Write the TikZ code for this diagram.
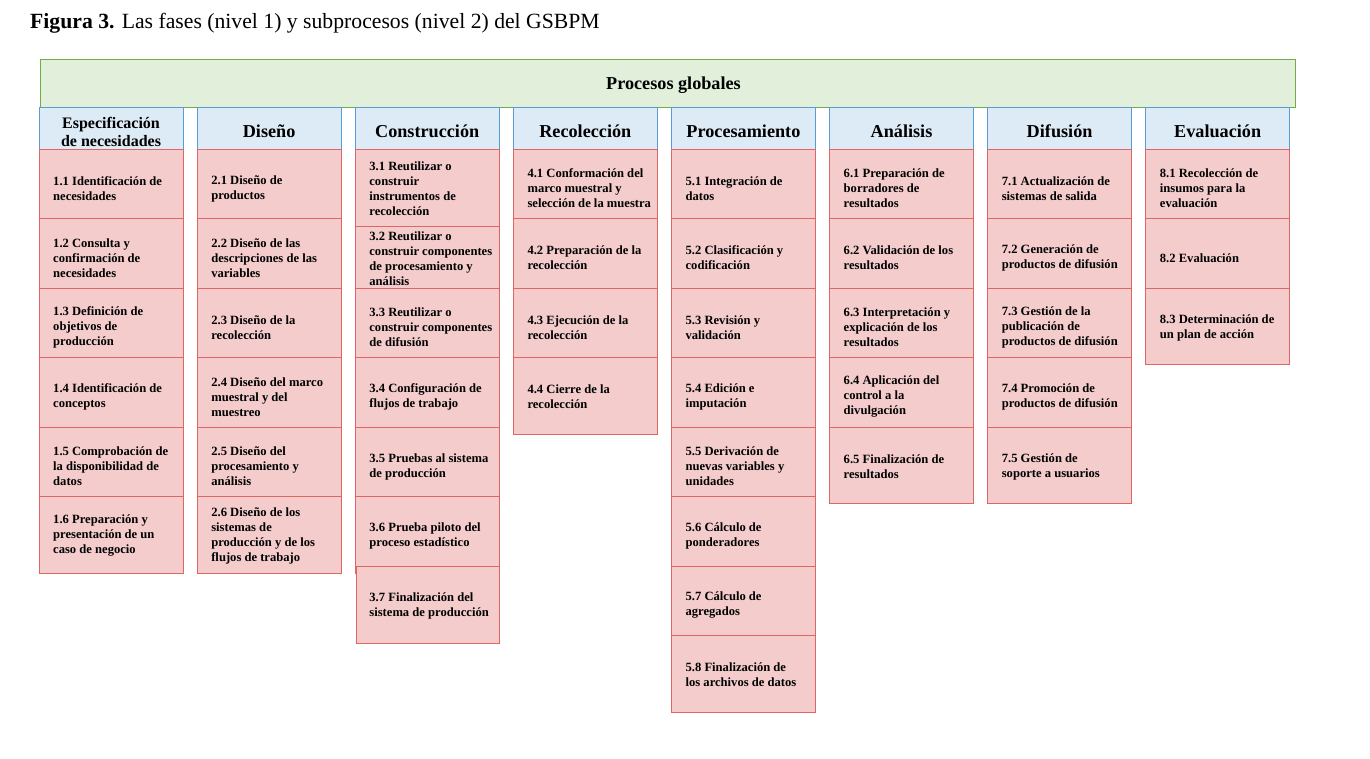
\documentclass[tikz,border=0pt]{standalone}
\usepackage{fontspec}
\setmainfont{Liberation Serif}
\usetikzlibrary{positioning}

\definecolor{globalfill}{HTML}{E2EFDA}
\definecolor{globalline}{HTML}{70AD47}
\definecolor{phasefill}{HTML}{DDEBF7}
\definecolor{phaseline}{HTML}{5B9BD5}
\definecolor{subfill}{HTML}{F4CCCC}
\definecolor{subline}{HTML}{E06666}

\newcommand{\titletextfont}{\fontsize{21.7}{25}\selectfont}
\newcommand{\phasetextfont}{\fontsize{18.2}{21}\selectfont\bfseries}
\newcommand{\firstphasefont}{\fontsize{16}{18}\selectfont\bfseries}
\newcommand{\subtextfont}{\fontsize{12.6}{15}\selectfont\bfseries}

\begin{document}
\begin{tikzpicture}[x=1pt, y=-1pt,
  global/.style={draw=globalline, fill=globalfill, line width=1pt, minimum width=1255pt, minimum height=48pt, inner sep=0pt, outer sep=0pt, anchor=north west},
  phase/.style={draw=phaseline, fill=phasefill, line width=1pt, minimum width=144pt, minimum height=41.5pt, inner sep=0pt, outer sep=0pt},
  sub/.style={draw=subline, fill=subfill, line width=1pt, minimum width=144pt, minimum height=69.5pt, inner sep=0pt, outer sep=0pt},
  last/.style={sub, minimum height=76.5pt},
  phasetext/.style={anchor=base, inner sep=0pt, font=\phasetextfont},
  subtext/.style={anchor=west, align=left, inner sep=0pt, font=\subtextfont},
  node distance=0pt and 14.1pt]
  \useasboundingbox (0,0) rectangle (1370,758);

  % Title
  \node[anchor=base west, inner sep=0pt, font=\titletextfont] (title) at (30,28.5) {\textbf{Figura 3.} Las fases (nivel 1) y subprocesos (nivel 2) del GSBPM};

  % Level 0: global processes
  \node[global] (global) at (40,59.5) {};
  \node[phasetext] (globalt) at (673.5,89) {Procesos globales};

  % Level 1: phases
  \node[phase, anchor=north west] (h1) at (39,107.5) {};
  \node[phase, right=of h1] (h2) {};
  \node[phase, right=of h2] (h3) {};
  \node[phase, right=of h3] (h4) {};
  \node[phase, right=of h4] (h5) {};
  \node[phase, right=of h5] (h6) {};
  \node[phase, right=of h6] (h7) {};
  \node[phase, right=of h7] (h8) {};
  \node[phasetext, anchor=center, align=center, font=\firstphasefont] (h1t) at ([yshift=-4.1pt]h1.center) {Especificación\\de necesidades};
  \node[phasetext] (h2t) at ([yshift=-9.25pt]h2.center) {Diseño};
  \node[phasetext] (h3t) at ([yshift=-9.25pt]h3.center) {Construcción};
  \node[phasetext] (h4t) at ([yshift=-9.25pt]h4.center) {Recolección};
  \node[phasetext] (h5t) at ([yshift=-9.25pt]h5.center) {Procesamiento};
  \node[phasetext] (h6t) at ([yshift=-9.25pt]h6.center) {Análisis};
  \node[phasetext] (h7t) at ([yshift=-9.25pt]h7.center) {Difusión};
  \node[phasetext] (h8t) at ([yshift=-9.25pt]h8.center) {Evaluación};

  % Level 2: Especificación de necesidades
  \node[sub, below=of h1] (s11) {};
  \node[sub, below=of s11] (s12) {};
  \node[sub, below=of s12] (s13) {};
  \node[sub, below=of s13] (s14) {};
  \node[sub, below=of s14] (s15) {};
  \node[last, below=of s15] (s16) {};
  \node[subtext] (t11) at ([xshift=14pt,yshift=-39.5pt]s11.north west) {1.1 Identificación de\\necesidades};
  \node[subtext] (t12) at ([xshift=14pt,yshift=-39.5pt]s12.north west) {1.2 Consulta y\\confirmación de\\necesidades};
  \node[subtext] (t13) at ([xshift=14pt,yshift=-39.5pt]s13.north west) {1.3 Definición de\\objetivos de\\producción};
  \node[subtext] (t14) at ([xshift=14pt,yshift=-39.5pt]s14.north west) {1.4 Identificación de\\conceptos};
  \node[subtext] (t15) at ([xshift=14pt,yshift=-39.5pt]s15.north west) {1.5 Comprobación de\\la disponibilidad de\\datos};
  \node[subtext] (t16) at ([xshift=14pt,yshift=-39.5pt]s16.north west) {1.6 Preparación y\\presentación de un\\caso de negocio};

  % Level 2: Diseño
  \node[sub, below=of h2] (s21) {};
  \node[sub, below=of s21] (s22) {};
  \node[sub, below=of s22] (s23) {};
  \node[sub, below=of s23] (s24) {};
  \node[sub, below=of s24] (s25) {};
  \node[last, below=of s25] (s26) {};
  \node[subtext] (t21) at ([xshift=14pt,yshift=-39.5pt]s21.north west) {2.1 Diseño de\\productos};
  \node[subtext] (t22) at ([xshift=14pt,yshift=-39.5pt]s22.north west) {2.2 Diseño de las\\descripciones de las\\variables};
  \node[subtext] (t23) at ([xshift=14pt,yshift=-39.5pt]s23.north west) {2.3 Diseño de la\\recolección};
  \node[subtext] (t24) at ([xshift=14pt,yshift=-39.5pt]s24.north west) {2.4 Diseño del marco\\muestral y del\\muestreo};
  \node[subtext] (t25) at ([xshift=14pt,yshift=-39.5pt]s25.north west) {2.5 Diseño del\\procesamiento y\\análisis};
  \node[subtext] (t26) at ([xshift=14pt,yshift=-39.5pt]s26.north west) {2.6 Diseño de los\\sistemas de\\producción y de los\\flujos de trabajo};

  % Level 2: Construcción
  \node[sub, below=of h3, minimum height=77pt] (s31) {};
  \node[sub, below=of s31, minimum height=62pt] (s32) {};
  \node[sub, below=of s32] (s33) {};
  \node[sub, below=of s33] (s34) {};
  \node[sub, below=of s34] (s35) {};
  \node[last, below=of s35] (s36) {};
  \node[last, anchor=north west, minimum width=143pt, minimum height=77pt] (s37) at ([xshift=1pt,yshift=7pt]s36.south west) {};
  \node[subtext] (t31) at ([xshift=14pt,yshift=-40pt]s31.north west) {3.1 Reutilizar o\\construir\\instrumentos de\\recolección};
  \node[subtext] (t32) at ([xshift=14pt,yshift=-33pt]s32.north west) {3.2 Reutilizar o\\construir componentes\\de procesamiento y\\análisis};
  \node[subtext] (t33) at ([xshift=14pt,yshift=-39.5pt]s33.north west) {3.3 Reutilizar o\\construir componentes\\de difusión};
  \node[subtext] (t34) at ([xshift=14pt,yshift=-39.5pt]s34.north west) {3.4 Configuración de\\flujos de trabajo};
  \node[subtext] (t35) at ([xshift=14pt,yshift=-39.5pt]s35.north west) {3.5 Pruebas al sistema\\de producción};
  \node[subtext] (t36) at ([xshift=14pt,yshift=-39.5pt]s36.north west) {3.6 Prueba piloto del\\proceso estadístico};
  \node[subtext] (t37) at ([xshift=13pt,yshift=-39.5pt]s37.north west) {3.7 Finalización del\\sistema de producción};

  % Level 2: Recolección
  \node[sub, below=of h4] (s41) {};
  \node[sub, below=of s41] (s42) {};
  \node[sub, below=of s42] (s43) {};
  \node[last, below=of s43] (s44) {};
  \node[subtext] (t41) at ([xshift=14pt,yshift=-39.5pt]s41.north west) {4.1 Conformación del\\marco muestral y\\selección de la muestra};
  \node[subtext] (t42) at ([xshift=14pt,yshift=-39.5pt]s42.north west) {4.2 Preparación de la\\recolección};
  \node[subtext] (t43) at ([xshift=14pt,yshift=-39.5pt]s43.north west) {4.3 Ejecución de la\\recolección};
  \node[subtext] (t44) at ([xshift=14pt,yshift=-39.5pt]s44.north west) {4.4 Cierre de la\\recolección};

  % Level 2: Procesamiento
  \node[sub, below=of h5] (s51) {};
  \node[sub, below=of s51] (s52) {};
  \node[sub, below=of s52] (s53) {};
  \node[sub, below=of s53] (s54) {};
  \node[sub, below=of s54] (s55) {};
  \node[sub, below=of s55] (s56) {};
  \node[sub, below=of s56] (s57) {};
  \node[last, below=of s57] (s58) {};
  \node[subtext] (t51) at ([xshift=14pt,yshift=-39.5pt]s51.north west) {5.1 Integración de\\datos};
  \node[subtext] (t52) at ([xshift=14pt,yshift=-39.5pt]s52.north west) {5.2 Clasificación y\\codificación};
  \node[subtext] (t53) at ([xshift=14pt,yshift=-39.5pt]s53.north west) {5.3 Revisión y\\validación};
  \node[subtext] (t54) at ([xshift=14pt,yshift=-39.5pt]s54.north west) {5.4 Edición e\\imputación};
  \node[subtext] (t55) at ([xshift=14pt,yshift=-39.5pt]s55.north west) {5.5 Derivación de\\nuevas variables y\\unidades};
  \node[subtext] (t56) at ([xshift=14pt,yshift=-39.5pt]s56.north west) {5.6 Cálculo de\\ponderadores};
  \node[subtext] (t57) at ([xshift=14pt,yshift=-39.5pt]s57.north west) {5.7 Cálculo de\\agregados};
  \node[subtext] (t58) at ([xshift=14pt,yshift=-39.5pt]s58.north west) {5.8 Finalización de\\los archivos de datos};

  % Level 2: Análisis
  \node[sub, below=of h6] (s61) {};
  \node[sub, below=of s61] (s62) {};
  \node[sub, below=of s62] (s63) {};
  \node[sub, below=of s63] (s64) {};
  \node[last, below=of s64] (s65) {};
  \node[subtext] (t61) at ([xshift=14pt,yshift=-39.5pt]s61.north west) {6.1 Preparación de\\borradores de\\resultados};
  \node[subtext] (t62) at ([xshift=14pt,yshift=-39.5pt]s62.north west) {6.2 Validación de los\\resultados};
  \node[subtext] (t63) at ([xshift=14pt,yshift=-39.5pt]s63.north west) {6.3 Interpretación y\\explicación de los\\resultados};
  \node[subtext] (t64) at ([xshift=14pt,yshift=-39.5pt]s64.north west) {6.4 Aplicación del\\control a la\\divulgación};
  \node[subtext] (t65) at ([xshift=14pt,yshift=-39.5pt]s65.north west) {6.5 Finalización de\\resultados};

  % Level 2: Difusión
  \node[sub, below=of h7] (s71) {};
  \node[sub, below=of s71] (s72) {};
  \node[sub, below=of s72] (s73) {};
  \node[sub, below=of s73] (s74) {};
  \node[last, below=of s74] (s75) {};
  \node[subtext] (t71) at ([xshift=14pt,yshift=-39.5pt]s71.north west) {7.1 Actualización de\\sistemas de salida};
  \node[subtext] (t72) at ([xshift=14pt,yshift=-39.5pt]s72.north west) {7.2 Generación de\\productos de difusión};
  \node[subtext] (t73) at ([xshift=14pt,yshift=-39.5pt]s73.north west) {7.3 Gestión de la\\publicación de\\productos de difusión};
  \node[subtext] (t74) at ([xshift=14pt,yshift=-39.5pt]s74.north west) {7.4 Promoción de\\productos de difusión};
  \node[subtext] (t75) at ([xshift=14pt,yshift=-39.5pt]s75.north west) {7.5 Gestión de\\soporte a usuarios};

  % Level 2: Evaluación
  \node[sub, below=of h8] (s81) {};
  \node[sub, below=of s81] (s82) {};
  \node[last, below=of s82] (s83) {};
  \node[subtext] (t81) at ([xshift=14pt,yshift=-39.5pt]s81.north west) {8.1 Recolección de\\insumos para la\\evaluación};
  \node[subtext] (t82) at ([xshift=14pt,yshift=-39.5pt]s82.north west) {8.2 Evaluación};
  \node[subtext] (t83) at ([xshift=14pt,yshift=-39.5pt]s83.north west) {8.3 Determinación de\\un plan de acción};

\end{tikzpicture}
\end{document}
